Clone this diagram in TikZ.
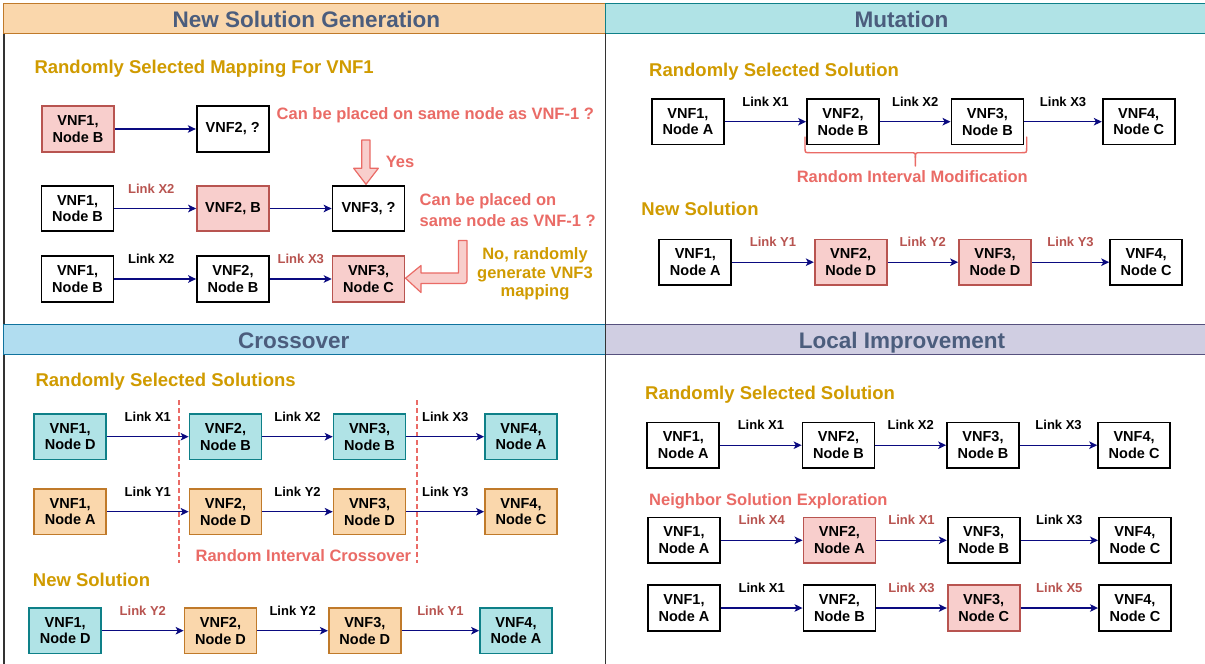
\documentclass[tikz,border=0pt]{standalone}
\usepackage{fontspec}
\setmainfont{Liberation Sans}
\usetikzlibrary{arrows.meta}

\definecolor{hdtext}{HTML}{4B5D7D}
\definecolor{gold}{HTML}{D09B00}
\definecolor{qred}{HTML}{EA6B66}
\definecolor{lred}{HTML}{B85450}
\definecolor{pinkfill}{HTML}{F8CECC}
\definecolor{tealfill}{HTML}{B0E3E6}
\definecolor{tealline}{HTML}{0E8088}
\definecolor{orfill}{HTML}{FAD7AC}
\definecolor{orline}{HTML}{C07A2A}
\definecolor{bluefill}{HTML}{B1DDF0}
\definecolor{blueline}{HTML}{10739E}
\definecolor{lavfill}{HTML}{D0CEE2}
\definecolor{lavline}{HTML}{56517E}
\definecolor{linkblue}{HTML}{0A0A80}
\definecolor{framegray}{HTML}{333333}

\tikzset{
  vnf/.style={draw=black, line width=1.7pt, fill=white, minimum width=72pt,
    minimum height=45.5pt, inner sep=0pt, align=center,
    font=\fontsize{14.5}{16.7}\selectfont\bfseries},
  hot/.style={vnf, draw=lred, fill=pinkfill},
  parA/.style={vnf, draw=tealline, fill=tealfill},
  parB/.style={vnf, draw=orline, fill=orfill},
  flow/.style={draw=linkblue, line width=1.4pt,
    -{Stealth[length=8pt,width=7.5pt,inset=2pt]}},
  lbl/.style={font=\fontsize{13}{13}\selectfont\bfseries, inner sep=0pt,
    text height=9.3pt, text depth=0pt, midway, yshift=20pt},
  lblhot/.style={lbl, text=lred},
  heading/.style={font=\fontsize{22.5}{24}\selectfont\bfseries, text=hdtext,
    inner sep=0pt, text height=16.1pt, text depth=0pt},
  sect/.style={font=\fontsize{18.5}{20}\selectfont\bfseries, text=gold,
    inner sep=0pt, anchor=west, text height=13.3pt, text depth=0pt},
  note/.style={font=\fontsize{16.5}{19}\selectfont\bfseries, text=qred,
    inner sep=0pt, text height=11.8pt, text depth=0pt},
  goldnote/.style={note, text=gold},
  hdrbar/.style={line width=1.2pt},
  frame/.style={draw=framegray, line width=1.3pt},
  blockarrow/.style={fill=pinkfill, draw=qred, line width=1.2pt, line join=round},
  cut/.style={draw=qred, line width=2pt, dash pattern=on 5pt off 3pt},
  bracket/.style={draw=qred, line width=1.4pt, line cap=round},
}

\begin{document}
\begin{tikzpicture}[x=1pt,y=-1pt]
\useasboundingbox (0,0) rectangle (1205,664);
\fill[white] (0,0) rectangle (1205,664);

% outer left frame line
\draw[frame] (4,33.3) -- (4,664);

% panel header bars
\draw[hdrbar, draw=orline, fill=orfill] (3.3,3.3) rectangle (605.3,33.3);
\draw[hdrbar, draw=tealline, fill=tealfill] (605.3,3.3) rectangle (1208,33.3);
\draw[hdrbar, draw=blueline, fill=bluefill] (3.3,324.3) rectangle (605.3,354.3);
\draw[hdrbar, draw=lavline, fill=lavfill] (605.3,324.3) rectangle (1208,354.3);

% vertical divider between the two columns
\draw[frame] (605.3,33.3) -- (605.3,664);

\node[heading] (hGen) at (306.3,19.7) {New Solution Generation};
\node[heading] (hMut) at (901.6,19.7) {Mutation};
\node[heading] (hCross) at (293.8,340.7) {Crossover};
\node[heading] (hLocal) at (902,340.7) {Local Improvement};

% ---------------- New Solution Generation ----------------
\node[sect] (tGen) at (34.3,66.7) {Randomly Selected Mapping For VNF1};

\node[hot] (g11) at (78,129) {VNF1,\\Node B};
\node[vnf] (g12) at (232.7,129) {VNF2, ?};
\draw[flow] (g11) -- (g12);

\node[vnf] (g21) at (77.6,208.5) {VNF1,\\Node B};
\node[hot] (g22) at (233,208.5) {VNF2, B};
\node[vnf] (g23) at (368.5,208.5) {VNF3, ?};
\draw[flow] (g21) -- node[lblhot, xshift=-4pt] {Link X2} (g22);
\draw[flow] (g22) -- (g23);

\node[vnf] (g31) at (77.6,279) {VNF1,\\Node B};
\node[vnf] (g32) at (233,279) {VNF2,\\Node B};
\node[hot] (g33) at (368.6,279) {VNF3,\\Node C};
\draw[flow] (g31) -- node[lbl, xshift=-4pt] {Link X2} (g32);
\draw[flow] (g32) -- node[lblhot] {Link X3} (g33);

\node[note] (q1) at (435.3,113.3) {Can be placed on same node as VNF-1 ?};
\node[note] (yes) at (400,161.2) {Yes};
\node[note, anchor=west] (q2a) at (419.5,200) {Can be placed on};
\node[note, anchor=west] (q2b) at (419.5,220.3) {same node as VNF-1 ?};
\node[goldnote] (no1) at (535,253.8) {No, randomly};
\node[goldnote] (no2) at (535,272.5) {generate VNF3};
\node[goldnote] (no3) at (535,291) {mapping};

% "yes" block arrow pointing down onto VNF3
\draw[blockarrow] (361.7,140) -- (370,140) -- (370,168.3) -- (378.3,168.3)
  -- (366,184.3) -- (353.7,168.3) -- (361.7,168.3) -- cycle;
% "no" bent block arrow pointing left onto VNF3, Node C
\draw[blockarrow] (458.5,240.5) -- (458.5,273) -- (421,273) -- (421,265.5)
  -- (405.5,278.2) -- (421,292.5) -- (421,283.5) -- (461,283.5)
  .. controls (467,283.5) .. (467,277.5) -- (467,240.5) -- cycle;

% ---------------- Mutation ----------------
\node[sect] (tMut1) at (649,69.5) {Randomly Selected Solution};

\node[vnf] (m11) at (687.9,121.7) {VNF1,\\Node A};
\node[vnf] (m12) at (843,121.7) {VNF2,\\Node B};
\node[vnf] (m13) at (987.4,121.7) {VNF3,\\Node B};
\node[vnf] (m14) at (1138.7,121.7) {VNF4,\\Node C};
\draw[flow] (m11) -- node[lbl] {Link X1} (m12);
\draw[flow] (m12) -- node[lbl] {Link X2} (m13);
\draw[flow] (m13) -- node[lbl] {Link X3} (m14);

% curly brace under VNF2..VNF3
\draw[bracket] (805,137) -- (805,147.7) .. controls (805,152.7) .. (810,152.7)
  -- (910.4,152.7) .. controls (915.4,152.7) .. (915.4,157.7) -- (915.4,166);
\draw[bracket] (1026.7,137) -- (1026.7,147.7) .. controls (1026.7,152.7) .. (1021.7,152.7)
  -- (920.4,152.7) .. controls (915.4,152.7) .. (915.4,157.7);
\node[note] (rim) at (912.3,176.3) {Random Interval Modification};

\node[sect] (tMut2) at (641.2,208.5) {New Solution};

\node[vnf] (m21) at (695.3,262.2) {VNF1,\\Node A};
\node[hot] (m22) at (850.7,262.2) {VNF2,\\Node D};
\node[hot] (m23) at (995,262.2) {VNF3,\\Node D};
\node[vnf] (m24) at (1146.1,262.2) {VNF4,\\Node C};
\draw[flow] (m21) -- node[lblhot] {Link Y1} (m22);
\draw[flow] (m22) -- node[lblhot] {Link Y2} (m23);
\draw[flow] (m23) -- node[lblhot] {Link Y3} (m24);

% ---------------- Crossover ----------------
\node[sect] (tCr1) at (35.4,380) {Randomly Selected Solutions};

% crossover cut points
\coordinate (cutAtop) at (178.6,400);
\coordinate (cutAbot) at (178.6,563.3);
\coordinate (cutBtop) at (417.4,400);
\coordinate (cutBbot) at (417.4,563.3);
\draw[cut] (cutAtop) -- (cutAbot);
\draw[cut] (cutBtop) -- (cutBbot);

\node[parA] (c11) at (70.2,436.7) {VNF1,\\Node D};
\node[parA] (c12) at (225.5,436.7) {VNF2,\\Node B};
\node[parA] (c13) at (369.6,436.7) {VNF3,\\Node B};
\node[parA] (c14) at (521,436.7) {VNF4,\\Node A};
\draw[flow] (c11) -- node[lbl] {Link X1} (c12);
\draw[flow] (c12) -- node[lbl] {Link X2} (c13);
\draw[flow] (c13) -- node[lbl] {Link X3} (c14);

\node[parB] (c21) at (70.2,511.7) {VNF1,\\Node A};
\node[parB] (c22) at (225.5,511.7) {VNF2,\\Node D};
\node[parB] (c23) at (369.6,511.7) {VNF3,\\Node D};
\node[parB] (c24) at (521,511.7) {VNF4,\\Node C};
\draw[flow] (c21) -- node[lbl] {Link Y1} (c22);
\draw[flow] (c22) -- node[lbl] {Link Y2} (c23);
\draw[flow] (c23) -- node[lbl] {Link Y3} (c24);

\node[note] (ric) at (303.4,555.7) {Random Interval Crossover};
\node[sect] (tCr2) at (32.7,580) {New Solution};

\node[parA] (c31) at (65.2,630.7) {VNF1,\\Node D};
\node[parB] (c32) at (220.5,630.7) {VNF2,\\Node D};
\node[parB] (c33) at (364.8,630.7) {VNF3,\\Node D};
\node[parA] (c34) at (516,630.7) {VNF4,\\Node A};
\draw[flow] (c31) -- node[lblhot] {Link Y2} (c32);
\draw[flow] (c32) -- node[lbl] {Link Y2} (c33);
\draw[flow] (c33) -- node[lblhot] {Link Y1} (c34);

% ---------------- Local Improvement ----------------
\node[sect] (tLoc1) at (645,393) {Randomly Selected Solution};

\node[vnf] (l11) at (683.3,445.2) {VNF1,\\Node A};
\node[vnf] (l12) at (838.5,445.2) {VNF2,\\Node B};
\node[vnf] (l13) at (983,445.2) {VNF3,\\Node B};
\node[vnf] (l14) at (1134.1,445.2) {VNF4,\\Node C};
\draw[flow] (l11) -- node[lbl] {Link X1} (l12);
\draw[flow] (l12) -- node[lbl] {Link X2} (l13);
\draw[flow] (l13) -- node[lbl] {Link X3} (l14);

\node[note, anchor=west] (tLoc2) at (649,499.3) {Neighbor Solution Exploration};

\node[vnf] (l21) at (684,540.3) {VNF1,\\Node A};
\node[hot] (l22) at (839.4,540.3) {VNF2,\\Node A};
\node[vnf] (l23) at (983.7,540.3) {VNF3,\\Node B};
\node[vnf] (l24) at (1134.9,540.3) {VNF4,\\Node C};
\draw[flow] (l21) -- node[lblhot] {Link X4} (l22);
\draw[flow] (l22) -- node[lblhot] {Link X1} (l23);
\draw[flow] (l23) -- node[lbl] {Link X3} (l24);

\node[vnf] (l31) at (684,608) {VNF1,\\Node A};
\node[vnf] (l32) at (839.4,608) {VNF2,\\Node B};
\node[hot] (l33) at (983.7,608) {VNF3,\\Node C};
\node[vnf] (l34) at (1134.9,608) {VNF4,\\Node C};
\draw[flow] (l31) -- node[lbl] {Link X1} (l32);
\draw[flow] (l32) -- node[lblhot] {Link X3} (l33);
\draw[flow] (l33) -- node[lblhot] {Link X5} (l34);
\end{tikzpicture}
\end{document}
